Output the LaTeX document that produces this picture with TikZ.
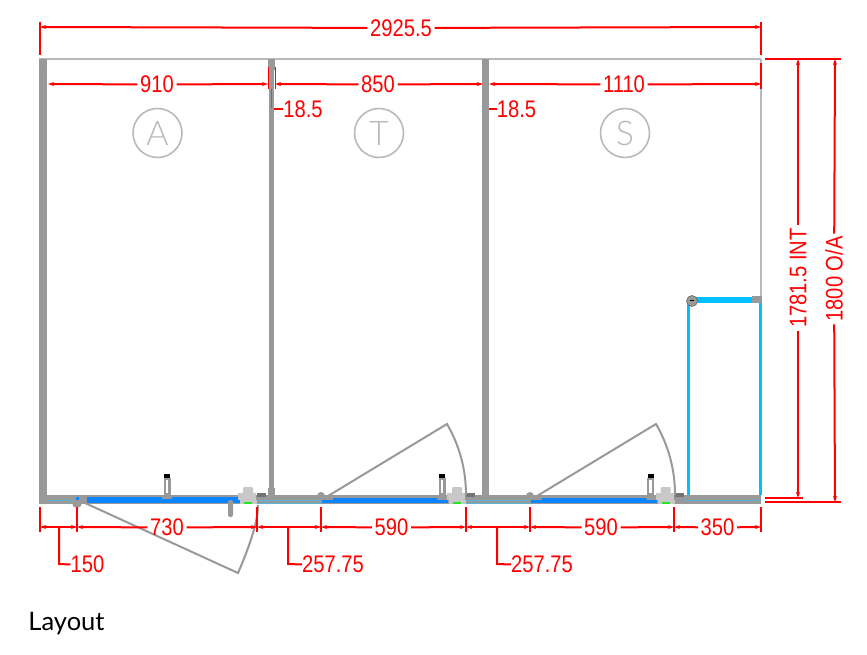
\documentclass[tikz,border=0pt]{standalone}
\usepackage{fontspec}
\setmainfont{Liberation Sans}
\newfontfamily\layoutfont{Lato}
\newfontfamily\markfont{Lato Light}
\usepackage{xcolor}
\usetikzlibrary{arrows.meta}
\definecolor{wallgray}{HTML}{999999}
\definecolor{framegray}{HTML}{B9B9B9}
\definecolor{partgray}{HTML}{C8C8C8}
\definecolor{glassblue}{HTML}{0A84FF}
\definecolor{glasscyan}{HTML}{00BFFF}
\definecolor{thincyan}{HTML}{55B5DA}
\definecolor{dimred}{HTML}{FF0000}
\definecolor{hingegreen}{HTML}{22E622}

\tikzset{
  dimtext/.style={text=dimred, font=\fontsize{24}{24}\selectfont, xscale=0.84, inner xsep=3pt, inner ysep=1pt},
  dimline/.style={draw=dimred, line width=2pt},
  dimarrow/.style={dimline, -{Stealth[length=6pt,width=4pt]}},
  dimboth/.style={dimline, {Stealth[length=6pt,width=4pt]}-{Stealth[length=6pt,width=4pt]}},
  roommark/.style={circle, draw=framegray, line width=1.6pt, minimum size=49pt, inner sep=0pt, text=framegray, font=\markfont\fontsize{34}{34}\selectfont},
  doorline/.style={draw=wallgray, line width=2pt}
}

\begin{document}
\begin{tikzpicture}[x=1pt,y=-1pt]
\useasboundingbox (0,0) rectangle (867,655);

% frame
\draw[framegray, line width=2.5pt] (39,59)--(761,59);
\draw[framegray, line width=2pt] (761,59)--(761,300);

% walls
\fill[wallgray] (39,59) rectangle (47,504);
\fill[wallgray] (268,59) rectangle (275,70);
\fill[wallgray] (269,59) rectangle (274,495);
\fill[wallgray] (268,488) rectangle (275,497);
\fill[wallgray] (482,59) rectangle (489,497);
\fill[wallgray] (39,495) rectangle (761,504);
\draw[thincyan, line width=1pt] (43,70)--(43,497);
\draw[thincyan, line width=0.7pt] (47,500)--(76,500);
\draw[thincyan, line width=0.7pt] (257,500)--(322,500);
\draw[thincyan, line width=0.7pt] (257,503)--(322,503);
\draw[thincyan, line width=0.7pt] (466,500)--(530,500);
\draw[thincyan, line width=0.7pt] (466,503)--(530,503);
\draw[thincyan, line width=0.7pt] (684,500)--(761,500);

% glass
\fill[glassblue] (87,497) rectangle (240,503);
\fill[glassblue] (332,498) rectangle (438,502);
\fill[glassblue] (322,500) rectangle (448,503);
\fill[glassblue] (541,498) rectangle (647,502);
\fill[glassblue] (531,500) rectangle (657,503);

% side panel
\draw[glasscyan, line width=3pt] (688,495)--(688,300);
\draw[glasscyan, line width=3pt] (760,495)--(760,300);
\fill[glasscyan] (692,297) rectangle (753,303);
\fill[wallgray] (752,296) rectangle (762,303);
\draw[fill=wallgray, draw=black!60, line width=0.6pt] (692,301) circle [radius=5.5];
\draw[black, line width=1pt] (690,300)--(694,300);

% handles and hinges
\foreach \hx/\cx in {167/248,442/457,650.5/665.5}{
  \fill[wallgray] (\hx-3.5,478) rectangle (\hx+3.5,499);
  \fill[white] (\hx-1.2,480) rectangle (\hx+1.2,493);
  \fill[black] (\hx-3,474) rectangle (\hx+3,478);
  \fill[wallgray] (\hx-5,496) rectangle (\hx+5,499);
  \fill[partgray, rounded corners=1pt] (\cx-5,487) rectangle (\cx+5,494);
  \fill[partgray] (\cx-10,493) rectangle (\cx+8,500);
  \fill[partgray] (\cx-8,500) rectangle (\cx+9,504);
  \fill[hingegreen] (\cx-4,502) rectangle (\cx+4,504);
  \fill[black!55] (\cx+9,493) rectangle (\cx+18,497);
}
\fill[wallgray, rounded corners=2pt] (228,500) rectangle (233,517);

% doors
\draw[doorline] (85,503)--(238,573) .. controls (251.3,542.3) and (258,519.7) .. (258,505);
\draw[doorline] (328,496)--(447,424) .. controls (459.7,446) and (466,469.7) .. (466,495);
\draw[doorline] (537,496)--(656,424) .. controls (668.7,446) and (675,469.7) .. (675,495);
\fill[wallgray] (77,503) circle [radius=5];
\fill[glassblue] (75.5,497) rectangle (78.5,500);
\fill[wallgray] (321,496) circle [radius=4];
\fill[wallgray] (317,496) rectangle (333,500);
\fill[wallgray] (530,496) circle [radius=4];
\fill[wallgray] (526,496) rectangle (542,500);

% room marks
\node[roommark] (markA) at (157.5,133) {A};
\node[roommark] (markT) at (379,133) {T};
\node[roommark] (markS) at (625,133) {S};

% ticks and points of the dimensions
\coordinate (topL) at (40,27);
\coordinate (topR) at (761,27);
\coordinate (inA) at (48,84);
\coordinate (inB) at (268,84);
\coordinate (inC) at (275,84);
\coordinate (inD) at (483,84);
\coordinate (inE) at (489,84);
\coordinate (inF) at (761,84);
\coordinate (botA) at (40,527);
\coordinate (botB) at (77,527);
\coordinate (botC) at (257,527);
\coordinate (botD) at (321,527);
\coordinate (botE) at (466,527);
\coordinate (botF) at (530,527);
\coordinate (botG) at (674,527);
\coordinate (botH) at (761,527);
\coordinate (intT) at (798,59);
\coordinate (intB) at (798,498);
\coordinate (oaT) at (835,59);
\coordinate (oaB) at (835,502);

% nodes
\node[dimtext] (tOverall) at (401,28) {2925.5};
\node[dimtext] (tA) at (157,84.5) {910};
\node[dimtext] (tT) at (378,84.5) {850};
\node[dimtext] (tS) at (624,84.5) {1110};
\node[dimtext, inner xsep=0pt] (tWallA) at (303,109.5) {18.5};
\node[dimtext, inner xsep=0pt] (tWallB) at (516.5,109.5) {18.5};
\node[dimtext] (t730) at (167,527.5) {730};
\node[dimtext] (t590a) at (391.5,527.5) {590};
\node[dimtext] (t590b) at (601,527.5) {590};
\node[dimtext] (t350) at (717.5,527.5) {350};
\node[dimtext, inner xsep=0pt] (t150) at (87.5,564.5) {150};
\node[dimtext, inner xsep=0pt] (t257a) at (333,564.5) {257.75};
\node[dimtext, inner xsep=0pt] (t257b) at (542,564.5) {257.75};
\node[text=dimred, font=\fontsize{24}{24}\selectfont, rotate=90, xscale=0.84, inner xsep=3pt, inner ysep=1pt] (tInt) at (798,278) {1781.5 INT};
\node[text=dimred, font=\fontsize{24}{24}\selectfont, rotate=90, xscale=0.84, inner xsep=3pt, inner ysep=1pt] (tOA) at (834,279) {1800 O/A};
\node[font=\layoutfont\fontsize{25.5}{26}\selectfont, inner sep=0pt] (tLayout) at (66.5,624) {Layout};

% dimension lines
\draw[dimarrow] (tOverall)--(topL);
\draw[dimarrow] (tOverall)--(topR);
\draw[dimarrow] (tA)--(inA);
\draw[dimarrow] (tA)--(inB);
\draw[dimarrow] (tT)--(inC);
\draw[dimarrow] (tT)--(inD);
\draw[dimarrow] (tS)--(inE);
\draw[dimarrow] (tS)--(inF);
\draw[dimarrow] (t730)--(botB);
\draw[dimarrow] (t730)--(botC);
\draw[dimarrow] (t590a)--(botD);
\draw[dimarrow] (t590a)--(botE);
\draw[dimarrow] (t590b)--(botF);
\draw[dimarrow] (t590b)--(botG);
\draw[dimarrow] (t350)--(botG);
\draw[dimarrow] (t350)--(botH);
\draw[dimboth] (botB)--(botA);
\draw[dimboth] (botC)--(botD);
\draw[dimboth] (botE)--(botF);
\draw[dimarrow] (tInt)--(intT);
\draw[dimarrow] (tInt)--(intB);
\draw[dimarrow] (tOA)--(oaT);
\draw[dimarrow] (tOA)--(oaB);

%red ticks
\foreach \tx/\ya/\yb in {40/22/55,761/22/55,761/63/89,40/507/532,77/507/532,257/507/532,321/507/532,466/507/532,530/507/532,674/507/532,761/507/532}{
  \draw[dimline] (\tx,\ya)--(\tx,\yb);
}
\draw[dimred, line width=1pt] (268,67)--(268,89);
\draw[dimred, line width=1pt] (275,67)--(275,89);
\draw[dimline] (765,59)--(841,59);
\draw[dimline] (765,498)--(803,498);
\draw[dimline] (765,502)--(841,502);

% leaders
\draw[dimline] (59,527)--(59,564)--(t150.west);
\draw[dimline] (288,527)--(288,564)--(t257a.west);
\draw[dimline] (497,527)--(497,564)--(t257b.west);
\draw[dimline] (tWallA.west)--(274,109.5);
\draw[dimline] (tWallB.west)--(489,109.5);
\draw[dimred!50!wallgray, line width=1pt] (271,89)--(271,108);

\end{tikzpicture}
\end{document}
